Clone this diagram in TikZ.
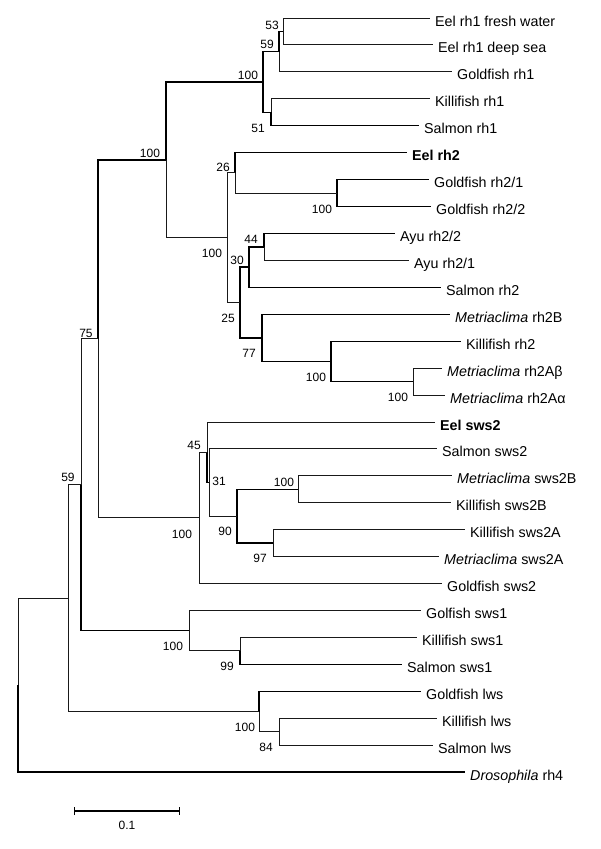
\documentclass[tikz,border=0pt]{standalone}
\usepackage{fontspec}
\setmainfont{Liberation Sans}
\usetikzlibrary{arrows.meta,positioning}

\tikzset{
  leaf/.style={anchor=west, inner xsep=5pt, inner ysep=0pt, text height=16pt, text depth=0pt,
    font=\fontsize{14.3}{16}\selectfont},
  boot/.style={inner sep=0pt, font=\fontsize{12}{14}\selectfont},
  branch/.style={line width=1.4pt, black},
  thinbranch/.style={line width=1pt, black!90},
}

\begin{document}
\begin{tikzpicture}[x=1pt,y=-1pt]
\useasboundingbox (0,0) rectangle (600,849);
% leaves (at branch tips)
\node[leaf] (fw)      at (430,18.0)  {Eel rh1 fresh water};
\node[leaf] (ds)      at (433,44.9)  {Eel rh1 deep sea};
\node[leaf] (gfrh1)   at (452,71.9)  {Goldfish rh1};
\node[leaf] (kfrh1)   at (430,98.8)  {Killifish rh1};
\node[leaf] (sarh1)   at (419,125.7) {Salmon rh1};
\node[leaf] (eelrh2)  at (407,152.7) {\textbf{Eel rh2}};
\node[leaf] (gfrh21)  at (429,179.6) {Goldfish rh2/1};
\node[leaf] (gfrh22)  at (431,206.5) {Goldfish rh2/2};
\node[leaf] (ayu22)   at (395,233.4) {Ayu rh2/2};
\node[leaf] (ayu21)   at (409,260.4) {Ayu rh2/1};
\node[leaf] (sarh2)   at (441,287.3) {Salmon rh2};
\node[leaf] (merh2b)  at (450,314.2) {\textit{Metriaclima} rh2B};
\node[leaf] (kfrh2)   at (461,341.2) {Killifish rh2};
\node[leaf] (merh2ab) at (442,368.1) {\textit{Metriaclima} rh2Aβ};
\node[leaf] (merh2aa) at (445,395.0) {\textit{Metriaclima} rh2Aα};
\node[leaf] (eelsws2) at (435,422.0) {\textbf{Eel sws2}};
\node[leaf] (sasws2)  at (437,448.9) {Salmon sws2};
\node[leaf] (mesws2b) at (452,475.8) {\textit{Metriaclima} sws2B};
\node[leaf] (kfsws2b) at (451,502.7) {Killifish sws2B};
\node[leaf] (kfsws2a) at (465,529.7) {Killifish sws2A};
\node[leaf] (mesws2a) at (439,556.6) {\textit{Metriaclima} sws2A};
\node[leaf] (gfsws2)  at (442,583.5) {Goldfish sws2};
\node[leaf] (gfsws1)  at (421,610.5) {Golfish sws1};
\node[leaf] (kfsws1)  at (417,637.4) {Killifish sws1};
\node[leaf] (sasws1)  at (402,664.3) {Salmon sws1};
\node[leaf] (gflws)   at (421,691.3) {Goldfish lws};
\node[leaf] (kflws)   at (437,718.2) {Killifish lws};
\node[leaf] (salws)   at (433,745.1) {Salmon lws};
\node[leaf] (dmrh4)   at (465,772.0) {\textit{Drosophila} rh4};
% internal nodes
\coordinate (n53)   at (283,31.45);
\coordinate (n59)   at (279,51.7);
\coordinate (n51)   at (271,112.25);
\coordinate (nrh1)  at (263,81.98);
\coordinate (ngf2)  at (337,193.05);
\coordinate (n26)   at (235,172.9);
\coordinate (n44)   at (264,246.9);
\coordinate (n30)   at (249,267.1);
\coordinate (na)    at (413,381.55);
\coordinate (nkf2)  at (331,361.4);
\coordinate (n77)   at (262,337.8);
\coordinate (n25)   at (240,302.45);
\coordinate (nrh2)  at (227,237.7);
\coordinate (nrh)   at (166,159.8);
\coordinate (nb)    at (298,489.25);
\coordinate (n97)   at (273,543.15);
\coordinate (n90)   at (237,516.2);
\coordinate (n31)   at (209,482.55);
\coordinate (n45)   at (207,452.3);
\coordinate (nsws2) at (199,517.9);
\coordinate (n75)   at (98,338.85);
\coordinate (n99)   at (240,650.85);
\coordinate (nsws1) at (189,630.7);
\coordinate (n59b)  at (81,484.8);
\coordinate (n84)   at (279,731.65);
\coordinate (nlws)  at (259,711.5);
\coordinate (nops)  at (68,598.15);
\coordinate (root)  at (18,685.1);
% rh1 clade
\draw[thinbranch] (n53) |- (fw.west);
\draw[thinbranch] (n53) |- (ds.west);
\draw[branch] (n59) |- (n53);
\draw[thinbranch] (n59) |- (gfrh1.west);
\draw[thinbranch] (n51) |- (kfrh1.west);
\draw[branch] (n51) |- (sarh1.west);
\draw[branch] (nrh1) |- (n59);
\draw[branch] (nrh1) |- (n51);
% rh2 clade
\draw[branch] (ngf2) |- (gfrh21.west);
\draw[branch] (ngf2) |- (gfrh22.west);
\draw[branch] (n26) |- (eelrh2.west);
\draw[thinbranch] (n26) |- (ngf2);
\draw[branch] (n44) |- (ayu22.west);
\draw[thinbranch] (n44) |- (ayu21.west);
\draw[branch] (n30) |- (n44);
\draw[branch] (n30) |- (sarh2.west);
\draw[thinbranch] (na) |- (merh2ab.west);
\draw[thinbranch] (na) |- (merh2aa.west);
\draw[branch] (nkf2) |- (kfrh2.west);
\draw[branch] (nkf2) |- (na);
\draw[branch] (n77) |- (merh2b.west);
\draw[branch] (n77) |- (nkf2);
\draw[branch] (n25) |- (n30);
\draw[branch] (n25) |- (n77);
\draw[thinbranch] (nrh2) |- (n26);
\draw[thinbranch] (nrh2) |- (n25);
\draw[branch] (nrh) |- (nrh1);
\draw[thinbranch] (nrh) |- (nrh2);
% sws2 clade
\draw[thinbranch] (nb) |- (mesws2b.west);
\draw[thinbranch] (nb) |- (kfsws2b.west);
\draw[thinbranch] (n97) |- (kfsws2a.west);
\draw[thinbranch] (n97) |- (mesws2a.west);
\draw[branch] (n90) |- (nb);
\draw[branch] (n90) |- (n97);
\draw[thinbranch] (n31) |- (sasws2.west);
\draw[thinbranch] (n31) |- (n90);
\draw[thinbranch] (n45) |- (eelsws2.west);
\draw[branch] (n45) |- (n31);
\draw[thinbranch] (nsws2) |- (n45);
\draw[thinbranch] (nsws2) |- (gfsws2.west);
\draw[branch] (n75) |- (nrh);
\draw[thinbranch] (n75) |- (nsws2);
% sws1 clade
\draw[thinbranch] (n99) |- (kfsws1.west);
\draw[branch] (n99) |- (sasws1.west);
\draw[thinbranch] (nsws1) |- (gfsws1.west);
\draw[thinbranch] (nsws1) |- (n99);
\draw[thinbranch] (n59b) |- (n75);
\draw[branch] (n59b) |- (nsws1);
% lws clade and root
\draw[thinbranch] (n84) |- (kflws.west);
\draw[thinbranch] (n84) |- (salws.west);
\draw[branch] (nlws) |- (gflws.west);
\draw[thinbranch] (nlws) |- (n84);
\draw[thinbranch] (nops) |- (n59b);
\draw[thinbranch] (nops) |- (nlws);
\draw[thinbranch] (root) |- (nops);
\draw[branch] (root) |- (dmrh4.west);
% bootstrap values
\node[boot] (b53)    at (272,25)  {53};
\node[boot] (b59)    at (267,44)  {59};
\node[boot] (brh1)   at (248,75)  {100};
\node[boot] (b51)    at (258,128) {51};
\node[boot] (brh)    at (150,153) {100};
\node[boot] (b26)    at (223,167) {26};
\node[boot] (bgf2)   at (322,209) {100};
\node[boot] (brh2)   at (212,253) {100};
\node[boot] (b44)    at (251,239) {44};
\node[boot] (b30)    at (237,260) {30};
\node[boot] (b25)    at (228,318) {25};
\node[boot] (b77)    at (249,353) {77};
\node[boot] (bkf2)   at (316,377) {100};
\node[boot] (ba)     at (398,397) {100};
\node[boot] (b75)    at (86,333)  {75};
\node[boot] (b45)    at (194,445) {45};
\node[boot] (b31)    at (219,481) {31};
\node[boot] (bb)     at (284,482) {100};
\node[boot] (b90)    at (225,531) {90};
\node[boot] (b97)    at (260,558) {97};
\node[boot] (bsws2)  at (182,534) {100};
\node[boot] (b59b)   at (68,477)  {59};
\node[boot] (bsws1)  at (173,646) {100};
\node[boot] (b99)    at (227,666) {99};
\node[boot] (blws)   at (245,727) {100};
\node[boot] (b84)    at (266,747) {84};
% scale bar
\coordinate (sb0) at (74,811);
\coordinate (sb1) at (180,811);
\draw[branch, {Bar[width=8pt]}-{Bar[width=8pt]}] (sb0) -- (sb1);
\node[boot] (sblabel) at (127,825) {0.1};
\end{tikzpicture}
\end{document}
